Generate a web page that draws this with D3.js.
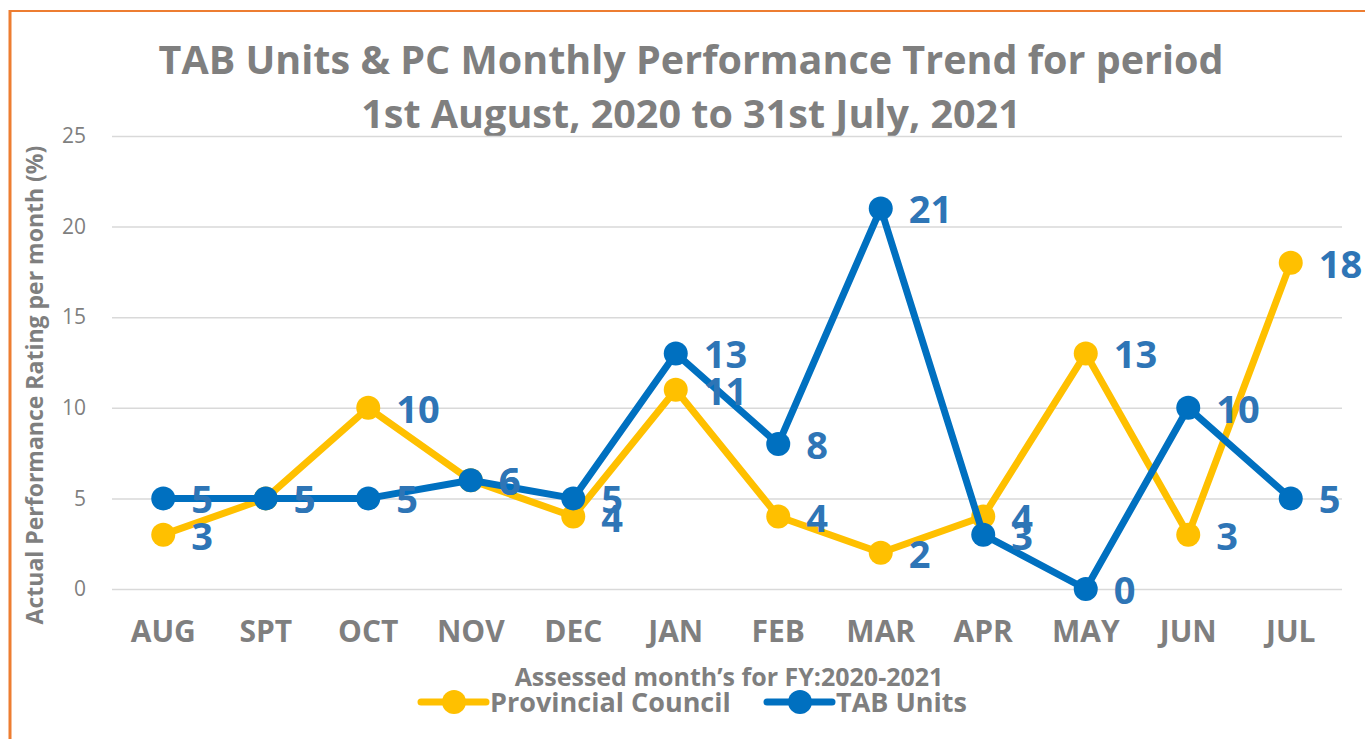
<!DOCTYPE html>
<html>
<head>
<meta charset="utf-8">
<script src="https://cdn.jsdelivr.net/npm/d3@7"></script>
<style>
	body { margin: 0; background: #fff; }
	svg text { font-family: "Open Sans", Lato, sans-serif; }
</style>
</head>
<body>
<script>
var months = ['AUG', 'SPT', 'OCT', 'NOV', 'DEC', 'JAN', 'FEB', 'MAR', 'APR', 'MAY', 'JUN', 'JUL'];
var provincialCouncil = [3, 5, 10, 6, 4, 11, 4, 2, 4, 13, 3, 18];
var tabUnits = [5, 5, 5, 6, 5, 13, 8, 21, 3, 0, 10, 5];
var yTicks = [0, 5, 10, 15, 20, 25];
var seriesNames = ['Provincial Council', 'TAB Units'];
var seriesColors = ['#FFC000', '#0070C0'];

var W = 1365, H = 739;
var plotLeft = 112, plotRight = 1342, plotTop = 136, plotBottom = 589;

var svg = d3.select('body').append('svg')
	.attr('width', W)
	.attr('height', H);

// frame (orange border)
svg.append('line').attr('x1', 10).attr('x2', W).attr('y1', 11).attr('y2', 11)
	.attr('stroke', '#ED7D31').attr('stroke-width', 2);
svg.append('line').attr('x1', 10).attr('x2', 10).attr('y1', 10).attr('y2', H)
	.attr('stroke', '#ED7D31').attr('stroke-width', 3);

var x = d3.scaleBand().domain(months).range([plotLeft, plotRight]);
var y = d3.scaleLinear().domain([0, 25]).range([plotBottom, plotTop]);
var cx = function(d, i){ return x(months[i]) + x.bandwidth() / 2; };

// title
var title = svg.append('text')
	.attr('text-anchor', 'middle')
	.attr('fill', '#7F7F7F')
	.attr('font-weight', 'bold')
	.attr('font-size', '39.5px');
title.append('tspan').attr('x', 691).attr('y', 74).text('TAB Units & PC Monthly Performance Trend for period');
title.append('tspan').attr('x', 691).attr('y', 128).text('1st August, 2020 to 31st July, 2021');

// gridlines + y ticks
var yAxis = svg.append('g')
	.attr('transform', 'translate(' + plotLeft + ',0)')
	.call(d3.axisLeft(y).tickValues(yTicks).tickSize(-(plotRight - plotLeft)).tickPadding(26));
yAxis.select('.domain').remove();
yAxis.selectAll('.tick line').attr('stroke', '#D9D9D9').attr('stroke-width', 1.5);
yAxis.selectAll('.tick text')
	.attr('fill', '#7F7F7F')
	.attr('font-size', '21px')
	.attr('font-family', '"Open Sans", sans-serif');

// x labels
var xAxis = svg.append('g')
	.attr('transform', 'translate(0,' + plotBottom + ')')
	.call(d3.axisBottom(x).tickSize(0).tickPadding(32));
xAxis.select('.domain').remove();
xAxis.selectAll('.tick text')
	.attr('fill', '#7F7F7F')
	.attr('font-size', '30px')
	.attr('font-weight', 'bold')
	.attr('font-family', '"Open Sans", sans-serif');

// axis titles
svg.append('text')
	.attr('transform', 'translate(43,385) rotate(-90)')
	.attr('text-anchor', 'middle')
	.attr('fill', '#7F7F7F')
	.attr('font-weight', 'bold')
	.attr('font-size', '23px')
	.text('Actual Performance Rating per month (%)');

svg.append('text')
	.attr('x', 729).attr('y', 686)
	.attr('text-anchor', 'middle')
	.attr('fill', '#7F7F7F')
	.attr('font-weight', 'bold')
	.attr('font-size', '25px')
	.text('Assessed month\u2019s for FY:2020-2021');

// series
var line = d3.line()
	.x(function(d, i){ return cx(d, i); })
	.y(function(d){ return y(d); });

var allSeries = [provincialCouncil, tabUnits];
allSeries.forEach(function(data, s){
	svg.append('path')
		.datum(data)
		.attr('d', line)
		.attr('fill', 'none')
		.attr('stroke', seriesColors[s])
		.attr('stroke-width', 7)
		.attr('stroke-linejoin', 'round');
	svg.append('g').selectAll('circle')
		.data(data)
		.enter()
		.append('circle')
		.attr('cx', cx)
		.attr('cy', function(d){ return y(d); })
		.attr('r', 12)
		.attr('fill', seriesColors[s]);
});

// data labels
allSeries.forEach(function(data){
	svg.append('g').selectAll('text')
		.data(data)
		.enter()
		.append('text')
		.attr('x', function(d, i){ return cx(d, i) + 28; })
		.attr('y', function(d){ return y(d) + 15; })
		.attr('fill', '#2E75B6')
		.attr('font-weight', 'bold')
		.attr('font-size', '38px')
		.text(function(d){ return d; });
});

// legend
var legendX = [421, 767];
seriesNames.forEach(function(name, s){
	var g = svg.append('g').attr('transform', 'translate(' + legendX[s] + ',702)');
	g.append('line').attr('x1', 0).attr('x2', 65).attr('y1', 0).attr('y2', 0)
		.attr('stroke', seriesColors[s]).attr('stroke-width', 7).attr('stroke-linecap', 'round');
	g.append('circle').attr('cx', 33).attr('cy', 0).attr('r', 12).attr('fill', seriesColors[s]);
	g.append('text').attr('x', 69).attr('y', 10)
		.attr('fill', '#7F7F7F')
		.attr('font-weight', 'bold')
		.attr('font-size', '27px')
		.text(name);
});
</script>
</body>
</html>
